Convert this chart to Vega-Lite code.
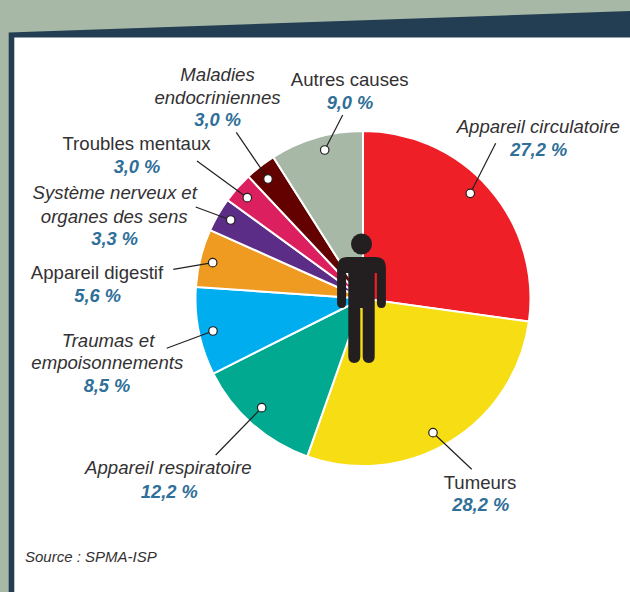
{
"$schema":"https://vega.github.io/schema/vega-lite/v6.json",
"width":630,"height":592,"padding":0,
"autosize":{"type":"fit","contains":"padding"},
"background":"#A8B8A6",
"config":{"view":{"stroke":null}},
"datasets":{
"slices":[
{"cause":"Appareil circulatoire","value":27.2,"rank":1,"x":363,"y":298.5},
{"cause":"Tumeurs","value":28.2,"rank":2,"x":363,"y":298.5},
{"cause":"Appareil respiratoire","value":12.2,"rank":3,"x":363,"y":298.5},
{"cause":"Traumas et empoisonnements","value":8.5,"rank":4,"x":363,"y":298.5},
{"cause":"Appareil digestif","value":5.6,"rank":5,"x":363,"y":298.5},
{"cause":"Système nerveux et organes des sens","value":3.3,"rank":6,"x":363,"y":298.5},
{"cause":"Troubles mentaux","value":3.0,"rank":7,"x":363,"y":298.5},
{"cause":"Maladies endocriniennes","value":3.0,"rank":8,"x":363,"y":298.5},
{"cause":"Autres causes","value":9.0,"rank":9,"x":363,"y":298.5}],
"leaders":[
{"x":470.3,"y":193.3,"xe":495.7,"ye":143.3},
{"x":433,"y":432.7,"xe":471.7,"ye":469.3},
{"x":261.7,"y":407.7,"xe":215.7,"ye":455},
{"x":213,"y":331,"xe":166.7,"ye":348.3},
{"x":212.7,"y":262.7,"xe":173.3,"ye":269.3},
{"x":230.7,"y":220,"xe":195.7,"ye":207},
{"x":247.3,"y":197.7,"xe":197,"ye":161},
{"x":268,"y":179,"xe":236.3,"ye":132.3},
{"x":324.7,"y":150,"xe":342.7,"ye":115}],
"plain":[
{"t":"Autres causes","x":349.7,"y":86},
{"t":"Troubles mentaux","x":136.5,"y":150},
{"t":"Appareil digestif","x":97,"y":279.3},
{"t":"Tumeurs","x":480,"y":489}],
"italic":[
{"t":"Maladies","x":217.5,"y":81},
{"t":"endocriniennes","x":217.5,"y":104},
{"t":"Système nerveux et","x":114.7,"y":199},
{"t":"organes des sens","x":114.2,"y":222.7},
{"t":"Appareil circulatoire","x":538.3,"y":133.3},
{"t":"Traumas et","x":108,"y":347.3},
{"t":"empoisonnements","x":107.3,"y":369.3},
{"t":"Appareil respiratoire","x":168.3,"y":474.3}],
"pct":[
{"t":"3,0 %","x":217.7,"y":125.7},
{"t":"3,0 %","x":137,"y":173},
{"t":"3,3 %","x":114.7,"y":245},
{"t":"9,0 %","x":350,"y":109},
{"t":"27,2 %","x":538.7,"y":156},
{"t":"5,6 %","x":97.7,"y":301.7},
{"t":"8,5 %","x":107,"y":392.3},
{"t":"12,2 %","x":169.3,"y":497.7},
{"t":"28,2 %","x":480.7,"y":511}]
},
"encoding":{
"x":{"field":"x","type":"quantitative","axis":null,"scale":{"domain":[0,630],"nice":false,"zero":false}},
"y":{"field":"y","type":"quantitative","axis":null,"scale":{"domain":[592,0],"nice":false,"zero":false}}
},
"layer":[
{"data":{"values":[{"x":8.7,"y":32.4,"yb":592},{"x":630,"y":11,"yb":592}]},
 "mark":{"type":"area","orient":"vertical","color":"#233E52"},
 "encoding":{"y2":{"field":"yb"}}},
{"data":{"values":[{"x":14.3,"xr":630,"y":37.6,"yb":592}]},
 "mark":{"type":"rect","color":"#FFFFFF"},
 "encoding":{"x2":{"field":"xr"},"y2":{"field":"yb"}}},
{"data":{"name":"slices"},
 "transform":[{"stack":"value","groupby":[],"sort":[{"field":"rank","order":"ascending"}],"as":["v0","v1"]}],
 "mark":{"type":"arc","outerRadius":167.5,"innerRadius":0,"stroke":"#FFFFFF","strokeWidth":2},
 "encoding":{
  "theta":{"field":"v0","type":"quantitative","stack":null,"scale":{"domain":[0,100],"range":[0,6.283185]}},
  "theta2":{"field":"v1"},
  "color":{"field":"cause","type":"nominal","legend":null,"scale":{
   "domain":["Appareil circulatoire","Tumeurs","Appareil respiratoire","Traumas et empoisonnements","Appareil digestif","Système nerveux et organes des sens","Troubles mentaux","Maladies endocriniennes","Autres causes"],
   "range":["#EF1F28","#F6DD14","#00A98F","#00AEEF","#EF9B22","#5B2D86","#DC1F5F","#630000","#A8B8A6"]}}}},
{"data":{"values":[{"x":361.5,"y":310}]},
 "mark":{"type":"point","filled":true,"opacity":1,"color":"#231F20","size":40000,"shape":"M-0.14 -0.53 L0.14 -0.53 Q0.244 -0.53 0.244 -0.42 L0.244 -0.07 Q0.244 -0.02 0.199 -0.02 Q0.154 -0.02 0.154 -0.07 L0.154 -0.37 L0.132 -0.37 L0.132 0.465 Q0.132 0.53 0.072 0.53 Q0.012 0.53 0.012 0.465 L0.012 -0.02 L-0.012 -0.02 L-0.012 0.465 Q-0.012 0.53 -0.072 0.53 Q-0.132 0.53 -0.132 0.465 L-0.132 -0.37 L-0.154 -0.37 L-0.154 -0.07 Q-0.154 -0.02 -0.199 -0.02 Q-0.244 -0.02 -0.244 -0.07 L-0.244 -0.42 Q-0.244 -0.53 -0.14 -0.53 Z"}},
{"data":{"values":[{"x":361.5,"y":244}]},
 "mark":{"type":"point","filled":true,"opacity":1,"color":"#231F20","size":441,"shape":"circle"}},
{"data":{"name":"leaders"},
 "mark":{"type":"rule","color":"#231F20","strokeWidth":1.2},
 "encoding":{"x2":{"field":"xe"},"y2":{"field":"ye"}}},
{"data":{"name":"leaders"},
 "mark":{"type":"point","filled":true,"opacity":1,"fill":"#FFFFFF","stroke":"#231F20","strokeWidth":1.2,"size":72,"shape":"circle"}},
{"data":{"name":"plain"},
 "mark":{"type":"text","font":"Liberation Sans","fontSize":18.6,"color":"#333132","align":"center","baseline":"alphabetic"},
 "encoding":{"text":{"field":"t"}}},
{"data":{"name":"italic"},
 "mark":{"type":"text","font":"Liberation Sans","fontSize":18.6,"fontStyle":"italic","color":"#333132","align":"center","baseline":"alphabetic"},
 "encoding":{"text":{"field":"t"}}},
{"data":{"name":"pct"},
 "mark":{"type":"text","font":"Liberation Sans","fontSize":18.3,"fontStyle":"italic","fontWeight":"bold","color":"#2F6F98","align":"center","baseline":"alphabetic"},
 "encoding":{"text":{"field":"t"}}},
{"data":{"values":[{"t":"Source : SPMA-ISP","x":25,"y":562.3}]},
 "mark":{"type":"text","font":"Liberation Sans","fontSize":15,"fontStyle":"italic","color":"#333132","align":"left","baseline":"alphabetic"},
 "encoding":{"text":{"field":"t"}}}
]
}
